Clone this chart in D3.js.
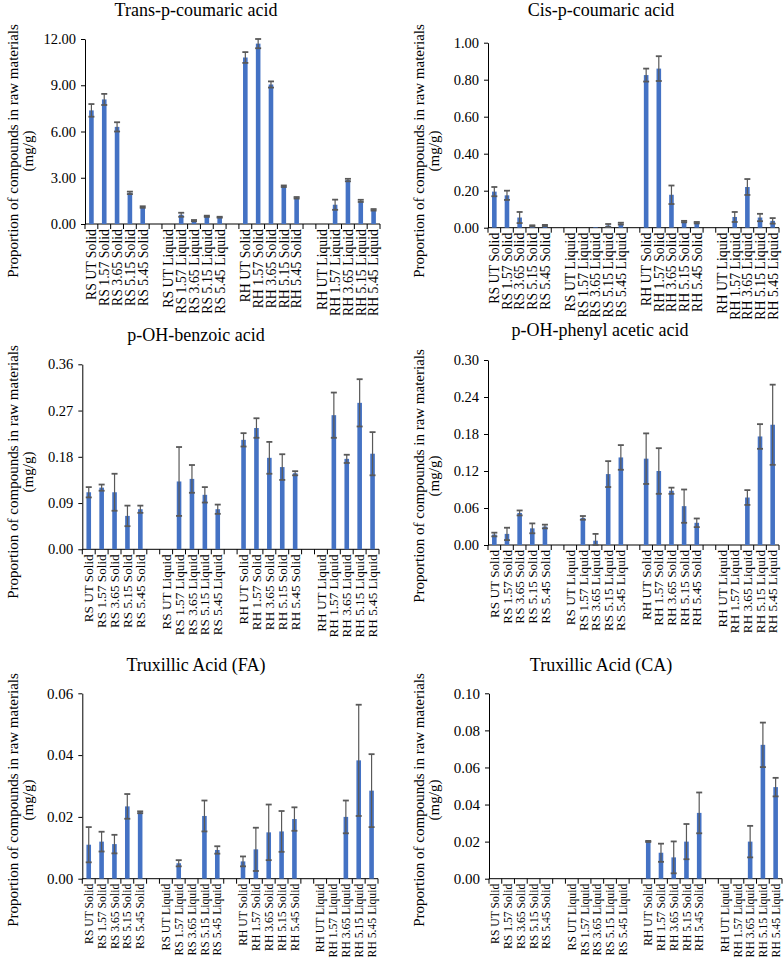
<!DOCTYPE html>
<html>

<head>
    <meta charset="utf-8">
    <script src="https://d3js.org/d3.v7.min.js"></script>
    <title>compounds</title>
    <style>
        body { margin: 0; background: #fff; }
        text { font-family: "Liberation Serif", "Times New Roman", serif; fill: #000; }
    </style>
</head>

<body>
    <div id="chart"></div>

    <script>
        // categories, in the order of the x axis (a blank slot sits between each group of five)
        const categories = [
            "RS UT Solid", "RS 1.57 Solid", "RS 3.65 Solid", "RS 5.15 Solid", "RS 5.45 Solid",
            "RS UT Liquid", "RS 1.57 Liquid", "RS 3.65 Liquid", "RS 5.15 Liquid", "RS 5.45 Liquid",
            "RH UT Solid", "RH 1.57 Solid", "RH 3.65 Solid", "RH 5.15 Solid", "RH 5.45 Solid",
            "RH UT Liquid", "RH 1.57 Liquid", "RH 3.65 Liquid", "RH 5.15 Liquid", "RH 5.45 Liquid"
        ];

        const titles = [
            "Trans-p-coumaric acid", "Cis-p-coumaric acid",
            "p-OH-benzoic acid", "p-OH-phenyl acetic acid",
            "Truxillic Acid (FA)", "Truxillic Acid (CA)"
        ];

        const yMax = [12, 1.0, 0.36, 0.30, 0.06, 0.10];
        const yStep = [3, 0.2, 0.09, 0.06, 0.02, 0.02];

        // means and standard deviations (mg/g)
        const transMean = [7.37, 8.08, 6.3, 2.02, 1.1, 0, 0.6, 0.22, 0.5, 0.44, 10.8, 11.7, 9.05, 2.45, 1.7, 0, 1.25, 2.85, 1.5, 0.92];
        const transErr = [0.41, 0.36, 0.3, 0.08, 0.05, 0, 0.13, 0.04, 0.04, 0.03, 0.35, 0.3, 0.2, 0.05, 0.05, 0, 0.33, 0.08, 0.07, 0.05];

        const cisMean = [0.195, 0.175, 0.055, 0.01, 0.012, 0, 0, 0.003, 0.012, 0.022, 0.825, 0.86, 0.178, 0.033, 0.027, 0, 0.058, 0.22, 0.055, 0.037];
        const cisErr = [0.025, 0.025, 0.03, 0.003, 0.003, 0, 0, 0, 0.008, 0.005, 0.035, 0.067, 0.05, 0.004, 0.004, 0, 0.027, 0.043, 0.02, 0.015];

        const benzMean = [0.111, 0.12, 0.111, 0.065, 0.078, 0, 0.132, 0.137, 0.106, 0.078, 0.213, 0.236, 0.178, 0.16, 0.148, 0, 0.261, 0.176, 0.285, 0.186];
        const benzErr = [0.01, 0.006, 0.036, 0.02, 0.007, 0, 0.067, 0.027, 0.015, 0.009, 0.013, 0.019, 0.031, 0.025, 0.004, 0, 0.044, 0.008, 0.046, 0.042];

        const phenMean = [0.017, 0.018, 0.052, 0.027, 0.03, 0, 0.044, 0.007, 0.115, 0.142, 0.14, 0.12, 0.088, 0.063, 0.036, 0, 0, 0.077, 0.176, 0.195];
        const phenErr = [0.003, 0.01, 0.004, 0.008, 0.003, 0, 0.003, 0.011, 0.021, 0.02, 0.041, 0.037, 0.005, 0.027, 0.007, 0, 0, 0.012, 0.02, 0.065];

        const faMean = [0.011, 0.012, 0.0112, 0.0234, 0.0215, 0, 0.005, 0, 0.0203, 0.0093, 0.0056, 0.0095, 0.015, 0.0153, 0.0193, 0, 0, 0.02, 0.0383, 0.0285];
        const faErr = [0.0057, 0.0032, 0.003, 0.004, 0.0003, 0, 0.001, 0, 0.005, 0.0012, 0.0016, 0.007, 0.009, 0.0066, 0.0038, 0, 0, 0.0053, 0.018, 0.0118];

        const caMean = [0, 0, 0, 0, 0, 0, 0, 0, 0, 0, 0.0201, 0.014, 0.0115, 0.02, 0.0355, 0, 0, 0.02, 0.0722, 0.0494];
        const caErr = [0, 0, 0, 0, 0, 0, 0, 0, 0, 0, 0.0003, 0.0049, 0.0086, 0.0095, 0.011, 0, 0, 0.0085, 0.012, 0.005];

        const means = [transMean, cisMean, benzMean, phenMean, faMean, caMean];
        const errs = [transErr, cisErr, benzErr, phenErr, faErr, caErr];

        // where each panel sits on the page (xf = x label font size)
        const layout = [
            { x0: 85, x1: 380, top: 39, bottom: 224, tx: 196, ty: 10, lx: 13, ly: 151, xf: 13.8, yf: 14.5 },
            { x0: 488, x1: 779, top: 42.7, bottom: 227.7, tx: 601, ty: 10, lx: 419, ly: 151, xf: 13.8, yf: 14.5 },
            { x0: 82.3, x1: 379, top: 364.3, bottom: 549.3, tx: 196, ty: 335, lx: 13, ly: 472, xf: 13.2, yf: 14.5 },
            { x0: 488, x1: 779, top: 360, bottom: 545, tx: 600, ty: 330, lx: 419, ly: 476, xf: 13.2, yf: 14.5 },
            { x0: 82.3, x1: 378, top: 693.3, bottom: 878.7, tx: 196, ty: 665, lx: 13, ly: 800, xf: 11.7, yf: 15 },
            { x0: 489, x1: 782, top: 693.3, bottom: 878.7, tx: 601, ty: 665, lx: 419, ly: 800, xf: 11.7, yf: 15 }
        ];

        const barColor = "#4472C4";
        const errColor = "#595959";
        const barWidth = 4.6;
        const capWidth = 6;

        // slots: groups of five with a blank slot between
        const slots = [];
        categories.forEach((c, i) => {
            if (i > 0 && i % 5 === 0) slots.push("gap" + i);
            slots.push(c);
        });

        const svg = d3.select("#chart").append("svg")
            .attr("width", 784)
            .attr("height", 959);

        layout.forEach((L, p) => {
            const g = svg.append("g");

            const x = d3.scaleBand()
                .domain(slots)
                .range([L.x0, L.x1])
                .padding(0);

            const y = d3.scaleLinear()
                .domain([0, yMax[p]])
                .range([L.bottom, L.top]);

            const ticks = d3.range(0, yMax[p] + yStep[p] / 2, yStep[p]);

            // y axis
            const yAxis = g.append("g")
                .attr("transform", `translate(${L.x0},0)`)
                .call(d3.axisLeft(y).tickValues(ticks).tickFormat(d3.format(".2f")).tickSize(4).tickSizeOuter(0));
            yAxis.select(".domain").attr("stroke", "#000");
            yAxis.selectAll(".tick line").attr("stroke", "#000");
            yAxis.selectAll(".tick text")
                .attr("x", -9)
                .style("font-size", L.yf + "px");

            // x axis line with ticks on slot boundaries
            g.append("line")
                .attr("x1", L.x0).attr("x2", L.x1)
                .attr("y1", L.bottom).attr("y2", L.bottom)
                .attr("stroke", "#000");

            g.selectAll(".xtick")
                .data(d3.range(slots.length + 1))
                .join("line")
                .attr("x1", i => L.x0 + i * x.step())
                .attr("x2", i => L.x0 + i * x.step())
                .attr("y1", L.bottom)
                .attr("y2", L.bottom + 5)
                .attr("stroke", "#000");

            g.selectAll(".xlab")
                .data(categories)
                .join("text")
                .attr("transform", d => `translate(${x(d) + x.bandwidth() / 2},${L.bottom + 5}) rotate(-90)`)
                .attr("text-anchor", "end")
                .attr("dy", "0.35em")
                .style("font-size", L.xf + "px")
                .text(d => d);

            // bars
            const rows = categories.map((c, i) => ({ c, v: means[p][i], e: errs[p][i] }));

            g.selectAll(".bar")
                .data(rows.filter(d => d.v > 0))
                .join("rect")
                .attr("x", d => x(d.c) + x.bandwidth() / 2 - barWidth / 2)
                .attr("y", d => y(d.v))
                .attr("width", barWidth)
                .attr("height", d => y(0) - y(d.v))
                .attr("fill", barColor);

            // error bars
            const eb = g.selectAll(".err")
                .data(rows.filter(d => d.v > 0 && d.e > 0))
                .join("g")
                .attr("transform", d => `translate(${x(d.c) + x.bandwidth() / 2},0)`)
                .attr("stroke", errColor)
                .attr("stroke-width", 1.2);

            eb.append("line")
                .attr("y1", d => y(Math.max(0, d.v - d.e)))
                .attr("y2", d => y(d.v + d.e));
            eb.append("line")
                .attr("x1", -capWidth / 2).attr("x2", capWidth / 2)
                .attr("y1", d => y(d.v + d.e)).attr("y2", d => y(d.v + d.e))
                .attr("stroke-width", 1.8);
            eb.append("line")
                .attr("x1", -capWidth / 2).attr("x2", capWidth / 2)
                .attr("y1", d => y(Math.max(0, d.v - d.e))).attr("y2", d => y(Math.max(0, d.v - d.e)))
                .attr("stroke-width", 1.8);

            // title
            g.append("text")
                .attr("x", L.tx)
                .attr("y", L.ty)
                .attr("dy", "0.35em")
                .attr("text-anchor", "middle")
                .style("font-size", "18px")
                .text(titles[p]);

            // y label on two lines
            const yl = g.append("text")
                .attr("transform", `translate(${L.lx},${L.ly}) rotate(-90)`)
                .attr("text-anchor", "middle")
                .style("font-size", "15px");
            yl.append("tspan").attr("x", 0).attr("dy", "0.35em").text("Proportion of compounds in raw materials");
            yl.append("tspan").attr("x", 0).attr("dy", "1em").text("(mg/g)");
        });
    </script>
</body>

</html>
